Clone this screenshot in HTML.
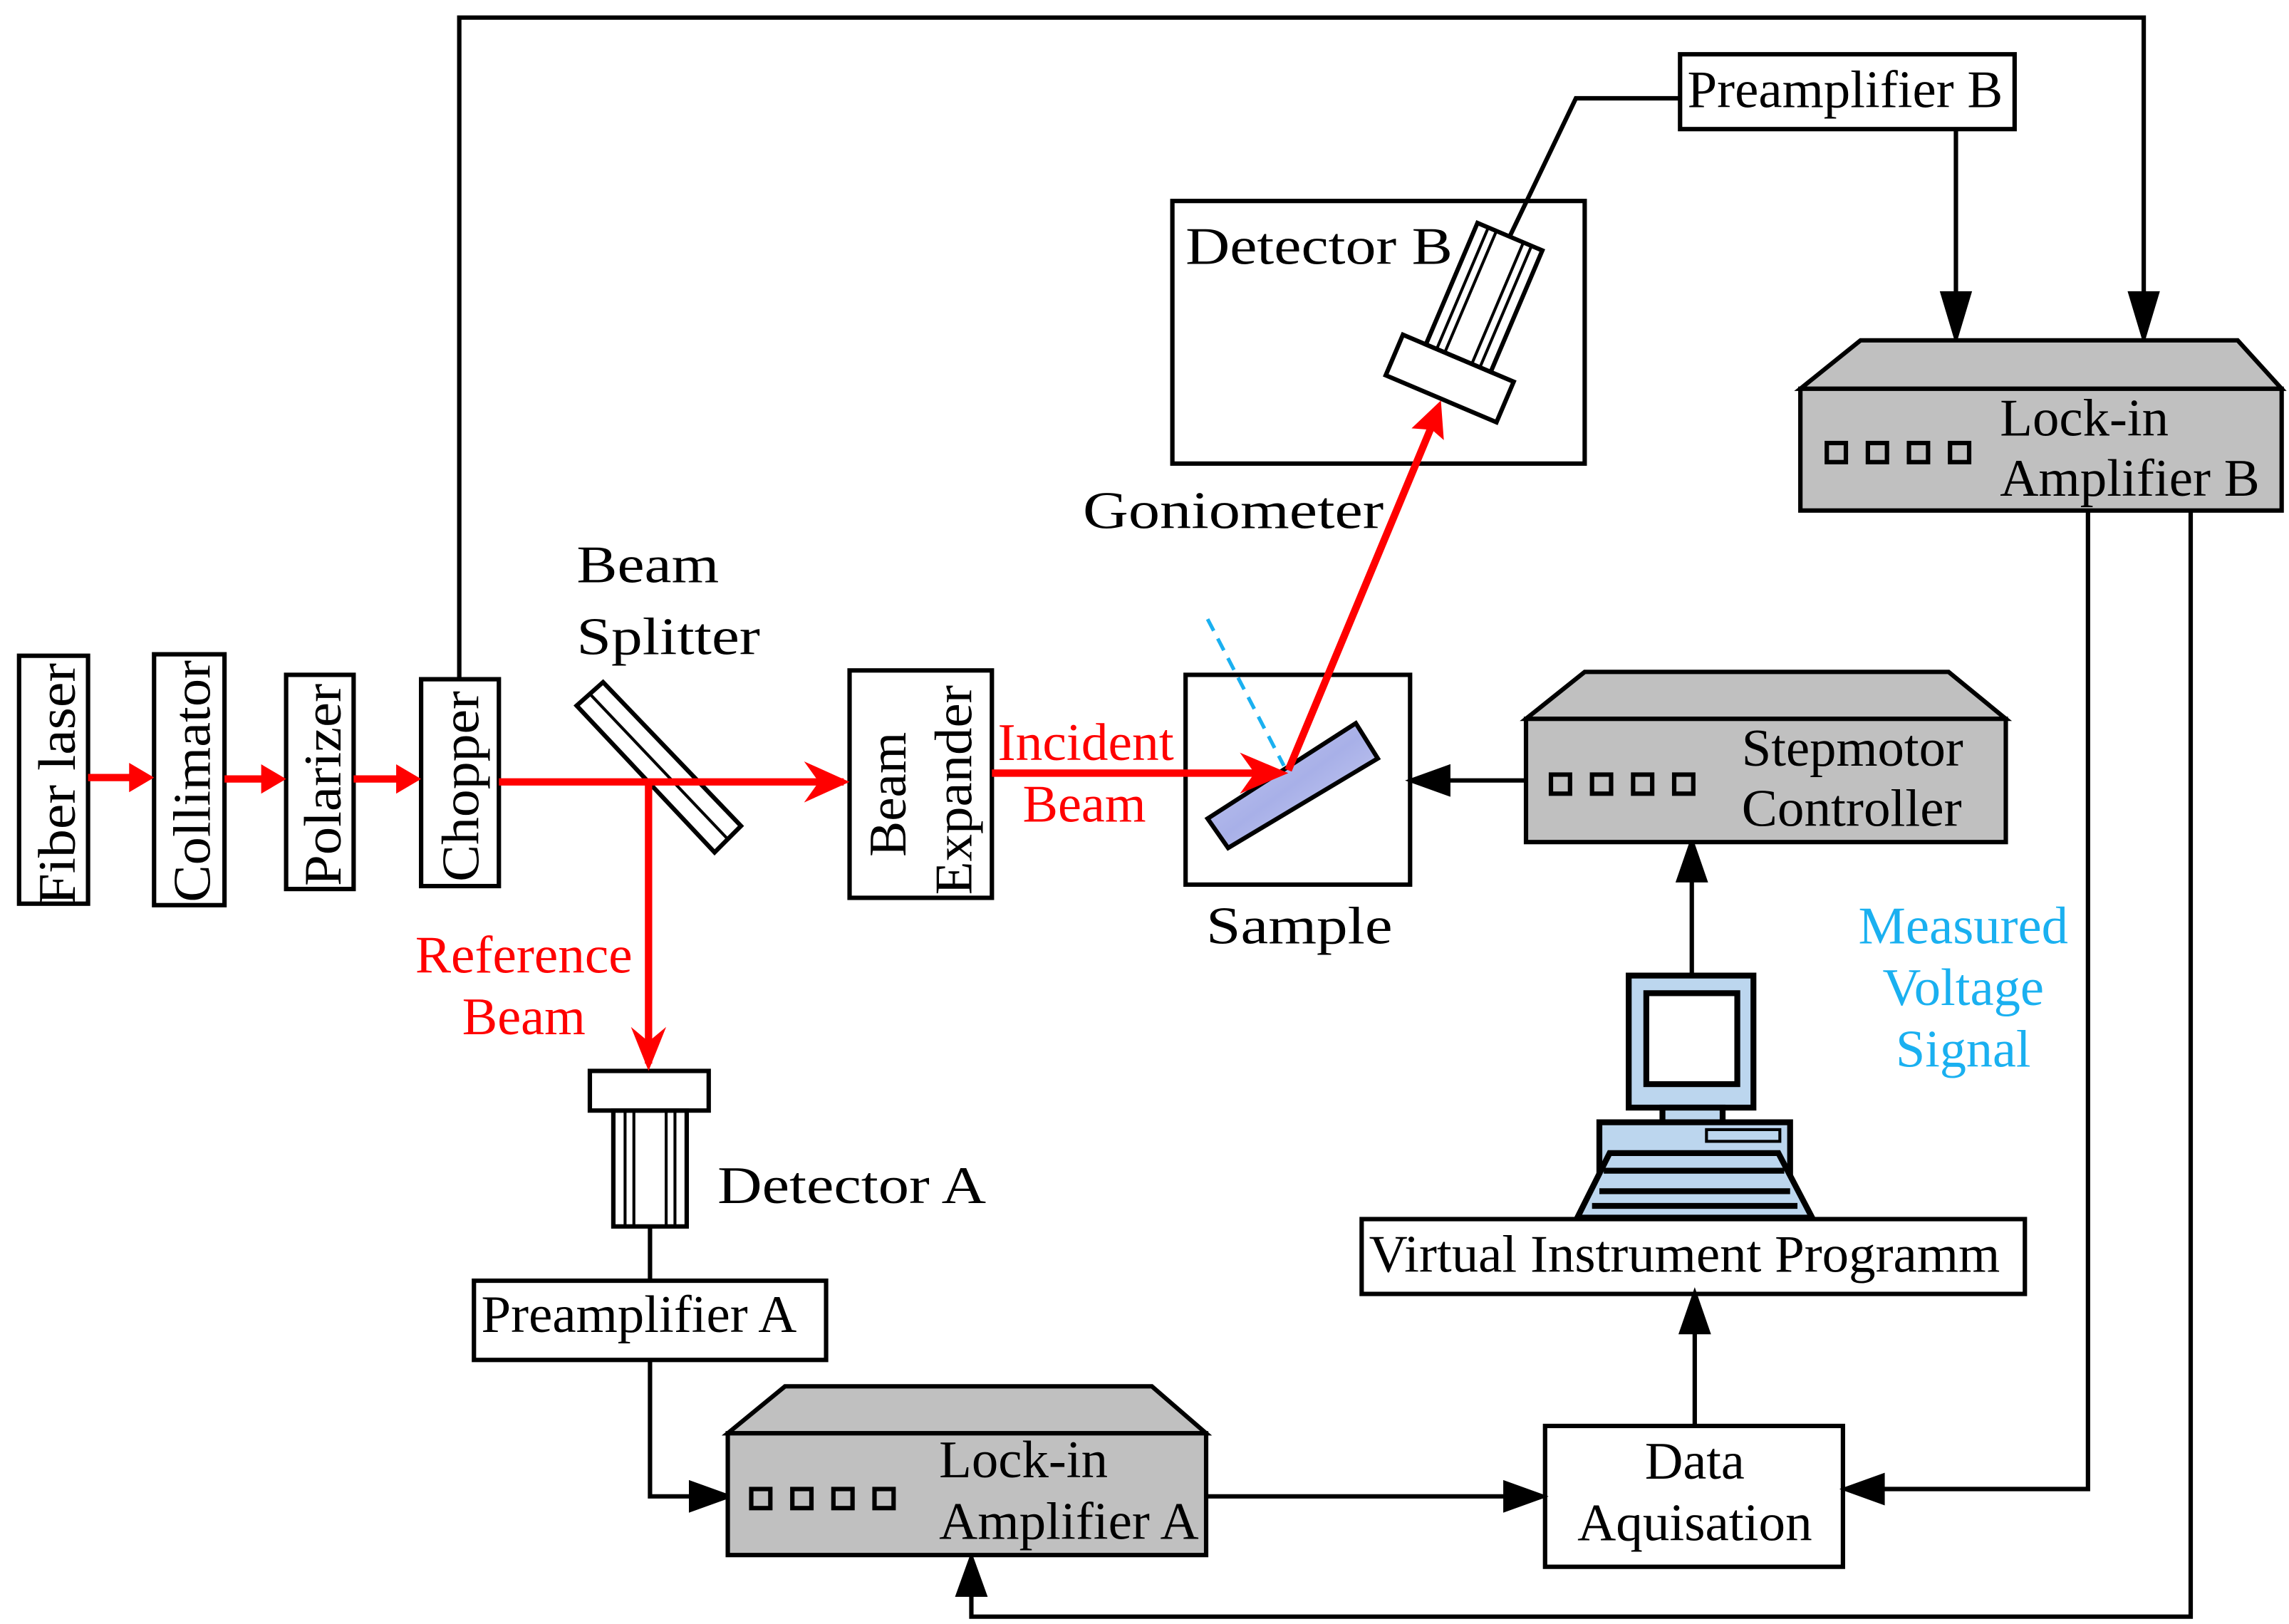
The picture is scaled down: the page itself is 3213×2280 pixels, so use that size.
<!DOCTYPE html>
<html><head><meta charset="utf-8"><style>
html,body{margin:0;padding:0;background:#fff;}
svg{display:block;}
text{font-family:"Liberation Serif",serif;font-size:36px;}
</style></head><body>
<svg width="3213" height="2280" viewBox="0 0 1560 1107" preserveAspectRatio="none" xmlns="http://www.w3.org/2000/svg">
<defs>
<marker id="ak" viewBox="0 0 10 10" refX="10" refY="5" markerWidth="7" markerHeight="7" orient="auto" markerUnits="userSpaceOnUse"></marker>
<linearGradient id="sg" x1="0" y1="0" x2="1" y2="1"><stop offset="0" stop-color="#c8ccf0"/><stop offset="0.5" stop-color="#a8b0e8"/><stop offset="1" stop-color="#d0d4f4"/></linearGradient>
</defs>
<g fill="none" stroke="#000" stroke-width="3">
<!-- top line chopper to lock-in B -->
<polyline points="313,463 313,12 1461,12 1461,205"/>
<polygon points="1452,200 1470,200 1461,230" fill="#000"/>
<!-- boxes -->
<rect x="13" y="447" width="47" height="169"/>
<rect x="105" y="446" width="48" height="171"/>
<rect x="195" y="460" width="46" height="146"/>
<rect x="287" y="463" width="53" height="141"/>
<rect x="579" y="457" width="97" height="155"/>
<rect x="808" y="460" width="153" height="143"/>
<rect x="799" y="137" width="281" height="179"/>
<rect x="1145" y="37" width="228" height="51"/>
<rect x="928" y="831" width="452" height="51"/>
<rect x="1053" y="972" width="203" height="96"/>
<rect x="323" y="873" width="240" height="54"/>
<!-- beam splitter -->
<polygon points="411,465 505,563 487,581 393,481"/>
<line x1="402" y1="473" x2="496" y2="572" stroke-width="2"/>
<!-- preamp B wiring -->
<polyline points="1029,161 1074,67 1145,67"/>
<line x1="1333" y1="88" x2="1333" y2="205"/>
<polygon points="1324,200 1342,200 1333,230" fill="#000"/>
<!-- lock-in B outputs -->
<polyline points="1423,348 1423,1015 1280,1015"/>
<polygon points="1283,1006 1283,1024 1258,1015" fill="#000"/>
<polyline points="1493,348 1493,1102 662,1102 662,1085"/>
<polygon points="653,1087 671,1087 662,1062" fill="#000"/>
<!-- stepmotor to sample -->
<line x1="1040" y1="532" x2="985" y2="532"/>
<polygon points="987,523 987,541 962,532" fill="#000"/>
<!-- computer to stepmotor -->
<line x1="1153" y1="665" x2="1153" y2="598"/>
<polygon points="1144,600 1162,600 1153,574" fill="#000"/>
<!-- data aq to VIP -->
<line x1="1155" y1="972" x2="1155" y2="906"/>
<polygon points="1146,908 1164,908 1155,882" fill="#000"/>
<!-- lock-in A to data aq -->
<line x1="822" y1="1020" x2="1028" y2="1020"/>
<polygon points="1026,1011 1026,1029 1051,1020" fill="#000"/>
<!-- detector A wiring -->
<line x1="443" y1="836" x2="443" y2="873"/>
<polyline points="443,927 443,1020 473,1020"/>
<polygon points="471,1011 471,1029 496,1020" fill="#000"/>
<!-- detector A -->
<rect x="402" y="730" width="81" height="27"/>
<rect x="418" y="757" width="50" height="79"/>
<line x1="426" y1="757" x2="426" y2="836" stroke-width="2"/>
<line x1="432" y1="757" x2="432" y2="836" stroke-width="2"/>
<line x1="454" y1="757" x2="454" y2="836" stroke-width="2"/>
<line x1="460" y1="757" x2="460" y2="836" stroke-width="2"/>
<!-- detector B -->
<g transform="translate(988,258) rotate(23)">
<rect x="-41" y="-15" width="82" height="30" fill="#fff"/>
<rect x="-24" y="-105" width="48" height="90"/>
<line x1="-16" y1="-105" x2="-16" y2="-15" stroke-width="2"/>
<line x1="-10" y1="-105" x2="-10" y2="-15" stroke-width="2"/>
<line x1="10" y1="-105" x2="10" y2="-15" stroke-width="2"/>
<line x1="16" y1="-105" x2="16" y2="-15" stroke-width="2"/>
</g>
</g>
<!-- Lock-in B -->
<g stroke="#000" stroke-width="3" fill="#c0c0c0">
<polygon points="1227,265 1268,232 1525,232 1555,265"/>
<rect x="1227" y="265" width="328" height="83"/>
<polygon points="1040,490 1080,458 1328,458 1367,490"/>
<rect x="1040" y="490" width="327" height="84"/>
<polygon points="496,977 535,945 785,945 822,977"/>
<rect x="496" y="977" width="326" height="83"/>
</g>
<g fill="none" stroke="#000" stroke-width="3">
<rect x="1245" y="302" width="13" height="13"/><rect x="1273" y="302" width="13" height="13"/><rect x="1301" y="302" width="13" height="13"/><rect x="1329" y="302" width="13" height="13"/>
<rect x="1057" y="528" width="13" height="13"/><rect x="1085" y="528" width="13" height="13"/><rect x="1113" y="528" width="13" height="13"/><rect x="1141" y="528" width="13" height="13"/>
<rect x="512" y="1015" width="13" height="13"/><rect x="540" y="1015" width="13" height="13"/><rect x="568" y="1015" width="13" height="13"/><rect x="596" y="1015" width="13" height="13"/>
</g>
<!-- computer -->
<g stroke="#000" stroke-width="4" fill="#bcd6ee">
<rect x="1110" y="665" width="85" height="90"/>
<rect x="1122" y="677" width="62" height="62" fill="#fff"/>
<rect x="1133" y="755" width="41" height="10"/>
<rect x="1090" y="765" width="130" height="62"/>
<rect x="1163" y="770" width="50" height="8" stroke-width="2"/>
<polygon points="1075,830 1097,786 1212,786 1235,830"/>
<line x1="1090" y1="812" x2="1220" y2="812"/>
<line x1="1085" y1="822" x2="1225" y2="822"/>
<line x1="1093" y1="798" x2="1216" y2="798"/>
</g>
<!-- sample slab -->
<polygon points="924,493 939,517 837,578 823,558" fill="url(#sg)" stroke="#000" stroke-width="3"/>
<line x1="823" y1="422" x2="875" y2="522" stroke="#1ab0f0" stroke-width="2.5" stroke-dasharray="9,6"/>
<!-- red beams -->
<g stroke="#ff0000" stroke-width="5" fill="#ff0000">
<line x1="60" y1="530" x2="90" y2="530"/><polygon points="88,520 88,540 105,530" stroke="none"/>
<line x1="153" y1="531" x2="180" y2="531"/><polygon points="178,521 178,541 195,531" stroke="none"/>
<line x1="241" y1="531" x2="272" y2="531"/><polygon points="270,521 270,541 287,531" stroke="none"/>
<line x1="340" y1="533" x2="575" y2="533"/>
<polyline points="548,519 579,533 548,547 558,533" stroke="none"/>
<line x1="442" y1="533" x2="442" y2="725"/>
<polyline points="430,700 442,730 454,700 442,710" stroke="none"/>
<line x1="676" y1="527" x2="872" y2="527"/>
<polyline points="845,513 878,527 845,541 855,527" stroke="none"/>
<line x1="878" y1="525" x2="978" y2="285"/>
<polygon points="962,292 982,273 984,300 976,293" stroke="none"/>
</g>
<!-- text -->
<g fill="#000">
<text transform="translate(51,617) rotate(-90)" textLength="165" lengthAdjust="spacingAndGlyphs">Fiber laser</text>
<text transform="translate(143,615) rotate(-90)" textLength="165" lengthAdjust="spacingAndGlyphs">Collimator</text>
<text transform="translate(232,604) rotate(-90)" textLength="138" lengthAdjust="spacingAndGlyphs">Polarizer</text>
<text transform="translate(326,601) rotate(-90)" textLength="130" lengthAdjust="spacingAndGlyphs">Chopper</text>
<text transform="translate(617,584) rotate(-90)" textLength="85" lengthAdjust="spacingAndGlyphs">Beam</text>
<text transform="translate(662,610) rotate(-90)" textLength="143" lengthAdjust="spacingAndGlyphs">Expander</text>
<text x="393" y="397" textLength="97" lengthAdjust="spacingAndGlyphs">Beam</text>
<text x="393" y="446" textLength="125" lengthAdjust="spacingAndGlyphs">Splitter</text>
<text x="808" y="180" textLength="182" lengthAdjust="spacingAndGlyphs">Detector B</text>
<text x="738" y="360" textLength="205" lengthAdjust="spacingAndGlyphs">Goniometer</text>
<text x="1150" y="73" font-size="34" textLength="215" lengthAdjust="spacingAndGlyphs">Preamplifier B</text>
<text x="1363" y="297" font-size="34" textLength="115" lengthAdjust="spacingAndGlyphs">Lock-in</text>
<text x="1363" y="338" font-size="34" textLength="177" lengthAdjust="spacingAndGlyphs">Amplifier B</text>
<text x="1187" y="522" font-size="34" textLength="151" lengthAdjust="spacingAndGlyphs">Stepmotor</text>
<text x="1187" y="563" font-size="34" textLength="150" lengthAdjust="spacingAndGlyphs">Controller</text>
<text x="822" y="643" textLength="127" lengthAdjust="spacingAndGlyphs">Sample</text>
<text x="489" y="820" textLength="183" lengthAdjust="spacingAndGlyphs">Detector A</text>
<text x="328" y="908" font-size="34" textLength="215" lengthAdjust="spacingAndGlyphs">Preamplifier A</text>
<text x="933" y="867" font-size="34" textLength="430" lengthAdjust="spacingAndGlyphs">Virtual Instrument Programm</text>
<text x="1155" y="1008" font-size="34" text-anchor="middle">Data</text>
<text x="1155" y="1050" font-size="34" text-anchor="middle" textLength="160" lengthAdjust="spacingAndGlyphs">Aquisation</text>
<text x="640" y="1007" font-size="34" textLength="115" lengthAdjust="spacingAndGlyphs">Lock-in</text>
<text x="640" y="1049" font-size="34" textLength="177" lengthAdjust="spacingAndGlyphs">Amplifier A</text>
</g>
<g fill="#ff0000" font-size="34">
<text x="680" y="518" font-size="34" textLength="120" lengthAdjust="spacingAndGlyphs">Incident</text>
<text x="697" y="560" font-size="34" textLength="84" lengthAdjust="spacingAndGlyphs">Beam</text>
<text x="283" y="663" font-size="34" textLength="148" lengthAdjust="spacingAndGlyphs">Reference</text>
<text x="315" y="705" font-size="34" textLength="84" lengthAdjust="spacingAndGlyphs">Beam</text>
</g>
<g fill="#1ab0f0">
<text x="1338" y="643" font-size="34" text-anchor="middle" textLength="143" lengthAdjust="spacingAndGlyphs">Measured</text>
<text x="1338" y="685" font-size="34" text-anchor="middle" textLength="110" lengthAdjust="spacingAndGlyphs">Voltage</text>
<text x="1338" y="727" font-size="34" text-anchor="middle" textLength="92" lengthAdjust="spacingAndGlyphs">Signal</text>
</g>
</svg>
</body></html>
